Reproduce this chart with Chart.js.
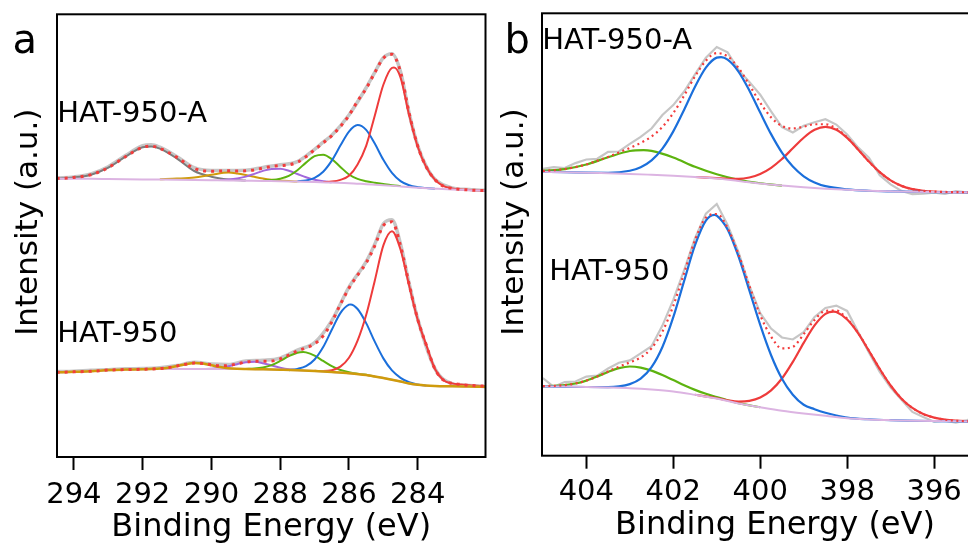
<!DOCTYPE html>
<html>
<head>
<meta charset="utf-8">
<script src="https://cdn.jsdelivr.net/npm/chart.js@4.4.1/dist/chart.umd.min.js"></script>
<style>
  html, body { margin: 0; padding: 0; background: #fff; width: 968px; height: 548px; overflow: hidden; }
  #wrapC { position: absolute; left: 0; top: 0; width: 490px; height: 548px; }
  #wrapN { position: absolute; left: 490px; top: 0; width: 530px; height: 548px; }
</style>
</head>
<body>
<div id="wrapC"><canvas id="chartC" width="490" height="548"></canvas></div>
<div id="wrapN"><canvas id="chartN" width="530" height="548"></canvas></div>
<script>
// ---- tick labels ----
const ticksC = [294, 292, 290, 288, 286, 284];
const ticksN = [404, 402, 400, 398, 396];

// ---- (a) C 1s, HAT-950-A (upper trace), [binding energy, intensity] ----
const cA_raw = [[294.5,279.2],[294,280.3],[293.5,283.3],[293,290.5],[292.5,301.6],[292,311.5],[291.75,312.5],[291.5,310],[291,300.5],[290.5,289.5],[290,286.8],[289.5,286.8],[289,287],[288.5,289.8],[288,292.4],[287.5,295.6],[287,307.9],[286.75,315],[286.5,322],[286,342.3],[285.5,369.5],[285.25,385],[285,399.5],[284.75,403.5],[284.5,385.5],[284.25,344],[284,311.5],[283.75,290.6],[283.5,278],[283,269.3],[282.5,267.6],[282,266.8]];
const cA_env = [[294.5,278.7],[294,279.7],[293.5,282.5],[293,289.5],[292.5,300.5],[292,309.9],[291.75,311],[291.5,308.85],[291,299.8],[290.5,288.7],[290,286],[289.5,286.35],[289.25,286.15],[289,286.4],[288.75,287.35],[288.5,289.1],[288.25,290.7],[288,291.6],[287.75,292.4],[287.5,294.95],[287.25,300.5],[287,307.5],[286.75,314.4],[286.5,321.45],[286.25,330.6],[286,341.8],[285.75,356.2],[285.5,368.7],[285.25,384.6],[285,399.1],[284.75,402.9],[284.5,385.2],[284.25,343.9],[284,311],[283.75,290.1],[283.5,277.5],[283.25,271],[283,268.8],[282.75,267.8],[282.5,267.2],[282,266.5]];
const cA_base = [[294.5,278.5],[294,278.5],[293.5,278.4],[293,278.2],[292.5,278],[292,277.8],[291.5,277.6],[291,277.4],[290.5,277.2],[290,277],[289.5,276.8],[289,276.5],[288.5,276.2],[288,276],[287.5,275.6],[287,275.2],[286.5,274.6],[286,274],[285.5,273],[285,272],[284.5,270.8],[284,269.5],[283.5,268.5],[283,267.6],[282.5,267],[282,266.5]];
const cA_2918 = [[294.5,278.7],[294,279.7],[293.5,282.5],[293,289.5],[292.5,300.5],[292,309.9],[291.75,310.7],[291.5,308.6],[291,298.6],[290.5,286.2],[290,280.5],[289.5,277.7],[289,276.6]];
const cA_2896 = [[291.5,277.9],[291,278.6],[290.5,279.7],[290,282.5],[289.5,284.7],[289.25,283.75],[289,282.2],[288.75,280.35],[288.5,278.7],[288.25,277.5],[288,276.7],[287.75,276.1],[287.5,275.6]];
const cA_2881 = [[289.75,277.2],[289.5,277.6],[289.25,278.65],[289,280.6],[288.75,283.35],[288.5,286.3],[288.25,288.3],[288,288.4],[287.75,286.4],[287.5,283.2],[287.25,280],[287,277.5],[286.75,275.9],[286.5,275]];
const cA_2868 = [[288.5,276.5],[288.25,277.1],[288,278.5],[287.75,281.3],[287.5,287],[287.25,294.6],[287,301],[286.75,302.5],[286.5,298.1],[286.25,290.3],[286,282.7],[285.75,278.3],[285.5,276],[285.25,274.5],[285,273.2],[284.75,272],[284.5,271.1]];
const cA_2857 = [[287.5,275.95],[287.25,276.7],[287,279.4],[286.75,285.5],[286.5,296.6],[286.25,311.6],[286,325.7],[285.75,332.1],[285.5,327.3],[285.25,313.6],[285,297.4],[284.75,284.3],[284.5,276.1],[284.25,271.9],[284,270],[283.75,269.1],[283.5,268.5]];
const cA_2847 = [[286.75,275.2],[286.5,275.6],[286.25,277.3],[286,281.4],[285.75,292.8],[285.5,311.4],[285.25,341.5],[285,372.5],[284.75,389.4],[284.69,389.7],[284.5,379.6],[284.25,342.1],[284,310.5],[283.75,290],[283.5,277.5],[283.25,271],[283,268.8],[282.75,267.8],[282.5,267.2],[282,266.5]];

// ---- (a) C 1s, HAT-950 (lower trace) ----
const cB_raw = [[294.5,85.5],[294,85.8],[293.5,86.8],[293,87.3],[292.5,88.2],[292,88.5],[291.5,89.3],[291,91.5],[290.5,94.8],[290,93],[289.5,92.5],[289,96],[288.5,96.8],[288,99],[287.5,107],[287,114.5],[286.5,136.5],[286,170],[285.5,195.5],[285.25,213],[285,233.5],[284.75,237.5],[284.5,213],[284.25,173.5],[284,138],[283.5,88.5],[283,73.5],[282.5,71.5],[282,70.3]];
const cB_env = [[294.5,84.7],[294,85.2],[293.5,85.8],[293,87],[292.5,87.5],[292,87.8],[291.5,88.5],[291.25,89.4],[291,91.1],[290.75,92.9],[290.5,94],[290.25,93.6],[290,92.2],[289.75,91.2],[289.5,91.6],[289.25,93.15],[289,95.1],[288.75,95.85],[288.5,95.8],[288.25,96],[288,98.2],[287.75,102],[287.5,106.1],[287.25,109.2],[287,113.2],[286.75,121.2],[286.5,135.1],[286.25,152.7],[286,168.9],[285.75,182],[285.5,194.2],[285.25,211.3],[285,231.5],[284.75,235.3],[284.5,211.1],[284.25,172.75],[284,137.55],[283.75,111.9],[283.5,88],[283.25,76.85],[283,73.7],[282.75,72.6],[282.5,71.7],[282,70.8]];
const cB_base = [[294.5,84.7],[294,85.2],[293.5,85.8],[293,87],[292.5,87.5],[292,87.8],[291.5,88],[291,88],[290.5,88],[290,88],[289.5,88],[289,88],[288.5,87.7],[288,87.3],[287.5,86.8],[287,86],[286.5,85],[286,83.8],[285.5,82],[285,79],[284.75,77.3],[284.5,75.5],[284.25,73.5],[284,72.2],[283.75,71.4],[283.5,71],[283,70.7],[282.5,70.5],[282,70.3]];
const cB_2905 = [[294.5,84.7],[294,85.2],[293.5,85.8],[293,87],[292.5,87.5],[292,87.8],[291.5,88.5],[291.25,89.4],[291,91.1],[290.75,92.9],[290.5,94],[290.25,93.5],[290,91.8],[289.75,90],[289.5,88.8],[289.25,88.25],[289,88],[288.5,87.7],[288,87.3],[287.5,86.8],[287,86],[286.5,85],[286,83.8],[285.5,82],[285,79],[284.75,77.3],[284.5,75.5],[284.25,73.5],[284,72.2],[283.5,71],[283,70.7],[282.5,70.5],[282,70.3]];
const cB_2888 = [[290.25,88.1],[290,88.4],[289.75,89.2],[289.5,90.8],[289.25,92.9],[289,94.8],[288.75,95.25],[288.5,93.9],[288.25,91.5],[288,89.4],[287.75,87.85],[287.5,87.1]];
const cB_2873 = [[289,88.1],[288.75,88.45],[288.5,89.6],[288.25,92],[288,96.1],[287.75,100.85],[287.5,104.4],[287.33,105],[287.25,104.7],[287,101.4],[286.75,96.1],[286.5,90.9],[286.25,87.1],[286,84.8],[285.75,83.3],[285.5,82.2],[285.25,80.6]];
const cB_2860 = [[287.75,86.9],[287.5,88.2],[287.25,90.9],[287,97.6],[286.75,110],[286.5,127.3],[286.25,144],[286,152.4],[285.95,152.7],[285.75,148.1],[285.5,134],[285.25,115.4],[285,98.7],[284.75,86.6],[284.5,79.2],[284.25,74.75],[284,72.55],[283.75,71.4]];
const cB_2848 = [[287,86.2],[286.75,86.1],[286.5,86.9],[286.25,90.4],[286,99.3],[285.75,116.4],[285.5,142],[285.25,176.4],[285,211.8],[284.75,226],[284.5,207.4],[284.25,171.5],[284,137.2],[283.75,111.9],[283.5,88],[283.25,76.85],[283,73.7],[282.75,72.6],[282.5,71.7],[282,70.8]];

// ---- (b) N 1s, HAT-950-A (upper trace) ----
const nA_raw = [[405,287.2],[404.75,288.9],[404.5,288],[404.25,293],[404,296.6],[403.75,297.3],[403.5,304.2],[403.25,304.6],[403,312.2],[402.75,319.2],[402.5,327.6],[402.25,341.2],[402,351.1],[401.75,364.7],[401.5,381.9],[401.25,398.5],[401,409.2],[400.75,403.9],[400.5,386.3],[400.25,374.3],[400,361.5],[399.75,344.8],[399.5,329.1],[399.25,323.7],[399,330.4],[398.75,333.9],[398.5,336.9],[398.25,331.6],[398,321.7],[397.75,308.7],[397.5,298.5],[397.25,280.9],[397,271.7],[396.75,265.2],[396.5,262],[396.25,262.3],[396,263.5],[395.75,262.1],[395.5,264.9],[395.25,263.8],[395,265.7],[394.75,264.5],[394.5,266],[394.3,265]];
const nA_env = [[405,285.15],[404.75,285.9],[404.5,287],[404.25,289],[404,291.6],[403.75,295.3],[403.5,299.2],[403.25,303.6],[403,308.2],[402.75,313.2],[402.5,319.6],[402.25,329.2],[402,343.1],[401.75,360.7],[401.5,379.9],[401.25,395.5],[401,403.2],[400.75,399.9],[400.5,388.3],[400.25,371.3],[400,353.5],[399.75,338.8],[399.5,330.1],[399.25,327.7],[399,329.4],[398.75,331.9],[398.5,331.9],[398.25,327.6],[398,318.7],[397.75,306.7],[397.5,294.5],[397.25,283.9],[397,275.7],[396.75,270.2],[396.5,267],[396.25,265.3],[396,264.5],[395.75,264.1],[395.5,263.9],[395.25,263.8],[395,263.7],[394.3,263.6]];
const nA_base = [[405,284.3],[404.5,283.9],[404,283.4],[403.5,282.8],[403,282.2],[402.5,281.3],[402,280.3],[401.5,279.1],[401,277.6],[400.5,275],[400,272.5],[399.5,270.5],[399,268.8],[398.5,267.3],[398,266.2],[397.5,265.3],[397,264.7],[396.5,264.2],[396,264],[395.5,263.8],[395,263.7],[394.3,263.6]];
const nA_4027 = [[405,285.15],[404.5,287],[404,291.6],[403.5,298.8],[403,305.1],[402.68,306],[402.5,305.2],[402,298.6],[401.5,289.3],[401,281.8],[400.5,276.25],[400,272.8],[399.5,270.5]];
const nA_4009 = [[405,284.3],[404.5,283.9],[404,283.4],[403.5,283.2],[403,285.3],[402.75,288.85],[402.5,295.7],[402.25,307.5],[402,324.8],[401.75,346.5],[401.5,369.5],[401.25,388.6],[401,398.6],[400.9,399.1],[400.75,396.5],[400.5,384.7],[400.25,365.8],[400,343.6],[399.75,322],[399.5,303.5],[399.25,289.5],[399,279.8],[398.75,273.6],[398.5,269.9],[398,266.65],[397.5,265.3],[397,264.7],[396,264],[395,263.7],[394.3,263.6]];
const nA_3985 = [[401.5,279.1],[401,278],[400.75,277.3],[400.5,277.3],[400.25,278.6],[400,282.1],[399.75,288.3],[399.5,297.1],[399.25,307.8],[399,318.4],[398.75,326.3],[398.5,329.3],[398.25,326.4],[398,318.2],[397.75,306.7],[397.5,294.5],[397.25,283.9],[397,275.7],[396.75,270.2],[396.5,267],[396.25,265.3],[396,264.5],[395.5,263.9],[395,263.7],[394.3,263.6]];

// ---- (b) N 1s, HAT-950 (lower trace) ----
const nB_raw = [[405,77.7],[404.75,68.95],[404.5,73.7],[404.25,74.3],[404,79.2],[403.75,80.25],[403.5,87.35],[403.25,93.1],[403,95.4],[402.75,102.4],[402.5,109.6],[402.25,130.3],[402,156.1],[401.75,185.9],[401.5,217.8],[401.25,242.35],[401,252],[400.75,231],[400.5,203.8],[400.25,170.2],[400,142.7],[399.75,127.3],[399.5,118.4],[399.25,116.4],[399,123.7],[398.75,139],[398.5,148],[398.25,150.3],[398,145],[397.75,124.1],[397.5,103.3],[397.25,83.8],[397,68.3],[396.75,56.1],[396.5,43.8],[396.25,38.7],[396,34.1],[395.75,35.05],[395.5,33.05],[395.25,35.55],[395,39.3],[394.75,40],[394.5,37],[394.3,38]];
const nB_env = [[405,69.7],[404.75,69.95],[404.5,70.7],[404.25,72.3],[404,75.2],[403.75,79.25],[403.5,84.35],[403.25,89.1],[403,93.4],[402.75,98.4],[402.5,107.6],[402.25,124.3],[402,150.1],[401.75,182.9],[401.5,215.8],[401.25,238.35],[401,242.05],[400.75,228],[400.5,201.8],[400.25,170.2],[400,140.7],[399.75,119.3],[399.5,107.5],[399.25,109],[399,121.7],[398.75,136],[398.5,145],[398.25,145.3],[398,137],[397.75,123.1],[397.5,105.3],[397.25,86.8],[397,70.3],[396.75,57.1],[396.5,47.8],[396.25,41.7],[396,38.1],[395.75,36.05],[395.5,35.05],[395.25,34.55],[395,34.3],[394.3,34.05]];
const nB_base = [[405,69.5],[404.5,69.2],[404,68.8],[403.5,68.3],[403,67.6],[402.5,66.3],[402,64.3],[401.5,61],[401,57.3],[400.5,52.3],[400,48.5],[399.5,45],[399,42.3],[398.5,40],[398,37.5],[397.5,36.3],[397,35.6],[396.5,35.1],[396,34.7],[395.5,34.4],[395,34.2],[394.3,34]];
const nB_4030 = [[405,69.7],[404.75,69.95],[404.5,70.7],[404.25,72.3],[404,75.2],[403.75,79.25],[403.5,83.9],[403.25,87.65],[403,89.3],[402.75,88.2],[402.5,85.2],[402.25,80.8],[402,75.7],[401.75,70.5],[401.5,65.9],[401.25,62],[401,58.7],[400.75,55.5],[400.5,52.6],[400,48.5]];
const nB_4011 = [[405,69.5],[404,68.8],[403.5,68.75],[403.25,69.4],[403,71.7],[402.75,77.2],[402.5,88.7],[402.25,108.9],[402,138.7],[401.75,175.1],[401.5,210.8],[401.25,235.4],[401.05,241.2],[401,240.4],[400.75,226.6],[400.5,199.6],[400.25,165.6],[400,131],[399.75,100.6],[399.5,77.1],[399.25,61.1],[399,51],[398.75,46.6],[398.5,43],[398.25,40.3],[398,38.2],[397.5,36.5],[397,35.6],[396,34.7],[395,34.2],[394.3,34]];
const nB_3983 = [[401.5,61],[401,57.55],[400.75,55.5],[400.5,54.2],[400.25,54.9],[400,58.2],[399.75,65.4],[399.5,77.3],[399.25,93.9],[399,113],[398.75,130.5],[398.5,142],[398.31,144.2],[398.25,143.8],[398,136.3],[397.75,122.7],[397.5,105.1],[397.25,86.8],[397,70.3],[396.75,57.1],[396.5,47.8],[396.25,41.7],[396,38.1],[395.75,36.05],[395.5,35.05],[395.25,34.55],[395,34.3],[394.3,34.05]];

const FONT = "'DejaVu Sans', sans-serif";
const RED = '#ee3b3b', BLUE = '#1b6fdb', GREEN = '#5db30f', PURPLE = '#a368db',
      ORANGE = '#cf9b0c', DARKGRAY = '#7c7c7c', RAW = '#c6c6c6', BASE = '#dcb4e2', DOTS = '#f23c3c';

function curve(points, color, width, more) {
  return Object.assign({
    data: points.map(p => ({ x: p[0], y: p[1] })),
    borderColor: color,
    borderWidth: width,
    pointRadius: 0,
    fill: false,
    cubicInterpolationMode: 'monotone'
  }, more || {});
}

// frame around the plot area, sample labels, panel letter and rotated y title
const framePlugin = {
  id: 'frame',
  afterDatasetsDraw(chart, args, opts) {
    const { ctx, chartArea: a } = chart;
    ctx.save();
    ctx.strokeStyle = '#000';
    ctx.lineWidth = 2;
    ctx.strokeRect(a.left, a.top, a.right - a.left, a.bottom - a.top);
    ctx.fillStyle = '#000';
    ctx.textBaseline = 'alphabetic';
    ctx.textAlign = 'left';
    opts.labels.forEach(l => {
      ctx.font = l.size + 'px ' + FONT;
      ctx.fillText(l.text, l.x, l.y);
    });
    ctx.translate(opts.yTitle.x, opts.yTitle.y);
    ctx.rotate(-Math.PI / 2);
    ctx.textAlign = 'center';
    ctx.font = '31px ' + FONT;
    ctx.fillText('Intensity (a.u.)', 0, 0);
    ctx.restore();
  }
};

function xScale(min, max, ticks, height, tickPad, titlePad) {
  return {
    type: 'linear',
    reverse: true,
    min: min,
    max: max,
    afterBuildTicks: s => { s.ticks = ticks.map(v => ({ value: v })); },
    afterFit: s => { s.height = height; },
    grid: { drawOnChartArea: false, tickLength: 13, tickWidth: 2, color: '#000' },
    border: { display: false },
    ticks: { color: '#000', font: { family: FONT, size: 29 }, padding: tickPad, maxRotation: 0, autoSkip: false },
    title: { display: true, text: 'Binding Energy (eV)', color: '#000', font: { family: FONT, size: 32 }, padding: { top: 0, bottom: titlePad } }
  };
}

function makeChart(id, datasets, scaleX, padding, frame) {
  return new Chart(document.getElementById(id), {
    type: 'line',
    data: { datasets: datasets },
    options: {
      responsive: false,
      devicePixelRatio: 1,
      animation: false,
      events: [],
      layout: { padding: padding },
      scales: {
        x: scaleX,
        y: { display: false, min: 0, max: 443 }
      },
      plugins: { legend: { display: false }, tooltip: { enabled: false }, frame: frame }
    },
    plugins: [framePlugin]
  });
}

// panel a (first dataset is drawn on top)
makeChart('chartC', [
  curve(cA_env, DOTS, 3, { borderDash: [3, 5] }),
  curve(cB_env, DOTS, 3, { borderDash: [3, 5] }),
  curve(cB_2905, ORANGE, 2.5),
  curve(cA_base, BASE, 2), curve(cB_base, BASE, 2),
  curve(cA_2847, RED, 2), curve(cA_2857, BLUE, 2), curve(cA_2868, GREEN, 2),
  curve(cA_2881, PURPLE, 2), curve(cA_2896, ORANGE, 2), curve(cA_2918, DARKGRAY, 2),
  curve(cB_2848, RED, 2), curve(cB_2860, BLUE, 2),
  curve(cB_2873, GREEN, 2), curve(cB_2888, PURPLE, 2),
  curve(cA_raw, RAW, 3.5), curve(cB_raw, RAW, 3.5)
], xScale(282.03, 294.49, ticksC, 91, 8, 1),
  { left: 57, right: 4.5, top: 14.3, bottom: 0 },
  {
    labels: [
      { text: 'a', size: 40, x: 12.6, y: 53.3 },
      { text: 'HAT-950-A', size: 29, x: 57.2, y: 121.7 },
      { text: 'HAT-950', size: 29, x: 57.2, y: 342 }
    ],
    yTitle: { x: 37.3, y: 222.2 }
  });

// panel b
makeChart('chartN', [
  curve(nA_env, DOTS, 2.2, { borderDash: [2, 3.5] }),
  curve(nB_env, DOTS, 2.2, { borderDash: [2, 3.5] }),
  curve(nA_base, BASE, 2), curve(nB_base, BASE, 2),
  curve(nA_4009, BLUE, 2.2), curve(nA_3985, RED, 2.2), curve(nA_4027, GREEN, 2.2),
  curve(nB_4011, BLUE, 2.2), curve(nB_3983, RED, 2.2), curve(nB_4030, GREEN, 2.2),
  curve(nA_raw, RAW, 2.2, { cubicInterpolationMode: 'default', tension: 0 }),
  curve(nB_raw, RAW, 2.2, { cubicInterpolationMode: 'default', tension: 0 })
], xScale(394.3, 405.02, ticksN, 92.3, 6.4, 3),
  { left: 52, right: 12, top: 13.3, bottom: 0 },
  {
    labels: [
      { text: 'b', size: 40, x: 14.4, y: 53.3 },
      { text: 'HAT-950-A', size: 29, x: 52.2, y: 49.3 },
      { text: 'HAT-950', size: 29, x: 59.2, y: 280 }
    ],
    yTitle: { x: 33, y: 222 }
  });
</script>
</body>
</html>
